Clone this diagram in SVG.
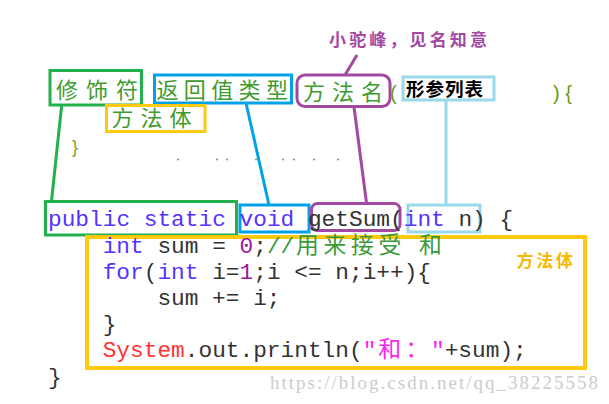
<svg xmlns="http://www.w3.org/2000/svg" width="609" height="404" viewBox="0 0 609 404">
<style>
.cjk{font-family:"Noto Sans CJK SC","Noto Sans",sans-serif}
.lbl{font-size:22px;fill:#3f9a2f}
.code{font-family:"Liberation Mono","Noto Sans CJK SC",monospace;font-size:22.8px;fill:#333333}
.kw{fill:#5533ff}
.num{fill:#a0189a}
.cm{fill:#3a9a3a}
.red{fill:#ff3333}
.str{fill:#ff22ee}
.box{fill:none;stroke-width:3}
.g{stroke:#22b14c}.b{stroke:#00a2e8}.p{stroke:#a349a4}.lb{stroke:#99d9ea}.y{stroke:#ffc90e}
.conn line{stroke-width:3;fill:none}
</style>
<rect width="609" height="404" fill="#ffffff"/>

<g id="conn" class="conn">
  <line class="g" x1="61.7" y1="105" x2="51.5" y2="201"/>
  <line class="b" x1="246" y1="103" x2="269" y2="205"/>
  <line class="p" x1="357" y1="55" x2="345" y2="75"/>
  <line class="p" x1="354" y1="107" x2="366.5" y2="203"/>
  <line class="lb" x1="446" y1="100" x2="446" y2="205"/>
</g>

<g id="note-camel">
  <text class="cjk" x="329" y="46" font-size="17" font-weight="bold" fill="#a349a4" textLength="158">小驼峰，见名知意</text>
</g>

<g id="modifier">
  <rect class="box g" x="50" y="70.5" width="91.5" height="34.5"/>
  <text class="cjk lbl" x="56" y="98" textLength="82">修饰符</text>
</g>
<g id="return-type">
  <rect class="box b" x="154.5" y="75" width="137" height="28"/>
  <text class="cjk lbl" x="156.5" y="98" textLength="131.5">返回值类型</text>
</g>
<g id="method-name">
  <rect class="box p" x="297" y="75" width="93" height="31.5" rx="8"/>
  <text class="cjk lbl" x="303" y="99.5" textLength="80">方法名</text>
</g>
<text x="390" y="100" font-family="Liberation Sans,sans-serif" font-size="20" fill="#6a9a1a">(</text>
<g id="params">
  <rect class="box lb" x="403" y="77" width="91" height="23"/>
  <text class="cjk" x="406" y="95.5" font-size="18.5" font-weight="bold" fill="#000000" textLength="77">形参列表</text>
</g>
<text x="553" y="100" font-family="Liberation Sans,sans-serif" font-size="20" fill="#6a9a1a">) {</text>
<g id="body-label-top">
  <rect class="box y" x="106.5" y="105.5" width="98.5" height="26"/>
  <text class="cjk lbl" x="111.5" y="126" textLength="80">方法体</text>
</g>
<text x="72" y="153" font-family="Liberation Sans,sans-serif" font-size="18" fill="#8a9a30">}</text>
<g id="dots" fill="#7a9a50">
  <circle cx="178" cy="159.5" r="1"/><circle cx="217" cy="159.5" r="1"/><circle cx="227" cy="159.5" r="1"/>
  <circle cx="256" cy="159.5" r="1"/><circle cx="283" cy="159.5" r="1"/><circle cx="294" cy="159.5" r="1"/>
  <circle cx="314" cy="159.5" r="1"/><circle cx="338" cy="159.5" r="1"/>
  <circle cx="88" cy="173" r="0.8" fill="#e8e0a0"/>
</g>

<g id="sig-modifier"><rect class="box g" x="45.5" y="201.5" width="191" height="33.5"/></g>
<g id="sig-void"><rect class="box b" x="240" y="205" width="69" height="27"/></g>
<g id="sig-name"><rect class="box p" x="311.5" y="203.5" width="88.5" height="27" rx="6"/></g>
<g id="sig-params"><rect class="box lb" x="408" y="205" width="72" height="27"/></g>
<g id="body">
  <rect x="87" y="237" width="498" height="131" fill="none" stroke="#ffc90e" stroke-width="4"/>
  <text class="cjk" x="516.5" y="267" font-size="17" font-weight="bold" fill="#f7b800" textLength="56.5">方法体</text>
</g>

<g id="code">
  <text class="code" x="48" y="226"><tspan class="kw">public static void</tspan> getSum(<tspan class="kw">int</tspan> n) {</text>
  <text class="code" x="102.7" y="253"><tspan class="kw">int</tspan> sum = <tspan class="num">0</tspan>;<tspan class="cm">//</tspan><tspan class="cm" x="296 323.5 351 378.5">用来接受</tspan><tspan class="cm" x="419">和</tspan></text>
  <text class="code" x="102.7" y="279"><tspan class="kw">for</tspan>(<tspan class="kw">int</tspan> i=<tspan class="num">1</tspan>;i &lt;= n;i++){</text>
  <text class="code" x="157.4" y="305">sum += i;</text>
  <text class="code" x="102.7" y="331">}</text>
  <text class="code" x="102.7" y="357"><tspan class="red">System</tspan>.out.println(<tspan class="str">"</tspan><tspan class="str" x="378.3 405.6">和：</tspan><tspan class="str" x="431">"</tspan>+sum);</text>
  <text class="code" x="48" y="384">}</text>
</g>

<text x="270" y="389" font-family="Liberation Serif,serif" font-size="19" fill="#cccccc" textLength="328">https://blog.csdn.net/qq_38225558</text>
</svg>
